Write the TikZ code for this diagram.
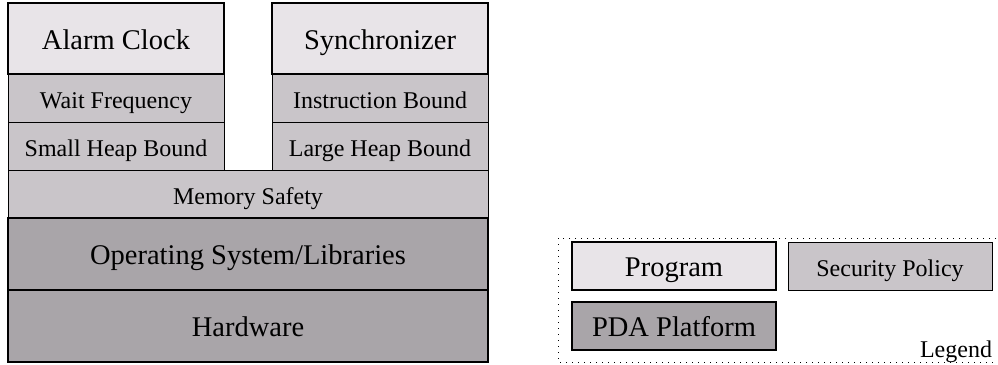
\documentclass[tikz,border=0pt]{standalone}
\usepackage{fontspec}
\setmainfont{Liberation Serif}
\usepackage{xcolor}
\usepackage{tikz}
\usetikzlibrary{positioning}

\definecolor{progfill}{HTML}{E8E4E8}
\definecolor{policyfill}{HTML}{C9C5C9}
\definecolor{platformfill}{HTML}{A9A5A9}

\begin{document}
\begin{tikzpicture}[
    x=1pt, y=-1pt,
    node distance=0pt,
    every node/.style={outer sep=0pt, inner sep=0pt},
    layer/.style={
        draw,
        rectangle,
        align=center,
        text height=21pt,
        text depth=0pt
    },
    program/.style={
        layer,
        line width=2pt,
        fill=progfill,
        font=\fontsize{28.5}{32}\selectfont,
        minimum width=216pt,
        minimum height=71pt
    },
    policy/.style={
        layer,
        line width=1pt,
        fill=policyfill,
        font=\fontsize{24}{28}\selectfont,
        minimum width=216pt,
        minimum height=48pt
    },
    platform/.style={
        layer,
        line width=2pt,
        fill=platformfill,
        font=\fontsize{28.5}{32}\selectfont,
        minimum width=480pt,
        minimum height=72pt
    }
]
\useasboundingbox (0,0) rectangle (998,364);

% ==========================================================
% PROGRAMS
% ==========================================================
\node[program, anchor=north west] (alarm) at (8,3) {Alarm Clock};
\node[program, right=48pt of alarm] (sync) {Synchronizer};

% ==========================================================
% POLICIES
% ==========================================================
\node[policy, below=of alarm] (wait) {Wait Frequency};
\node[policy, below=of wait] (smallheap) {Small Heap Bound};
\node[policy, below=of sync] (instr) {Instruction Bound};
\node[policy, below=of instr] (largeheap) {Large Heap Bound};
\node[policy, minimum width=480pt, anchor=north west] (memory) at (smallheap.south west) {Memory Safety};

% ==========================================================
% PLATFORM
% ==========================================================
\node[platform, below=of memory] (os) {Operating System/Libraries};
\node[platform, below=of os] (hw) {Hardware};

% ==========================================================
% LEGEND
% ==========================================================
\node[program, minimum width=204pt, minimum height=48pt, anchor=north west] (legprog) at (572,242) {Program};
\node[policy, minimum width=204pt, right=12pt of legprog] (legpolicy) {Security Policy};
\node[platform, minimum width=204pt, minimum height=48pt, below=12pt of legprog] (legplatform) {PDA Platform};
\node[font=\fontsize{24}{28}\selectfont, anchor=base east] (legendlabel) at (992,357) {Legend};

\draw[line width=1pt, dash pattern=on 1pt off 5pt] (558,238) rectangle (1004,362);

\end{tikzpicture}
\end{document}
